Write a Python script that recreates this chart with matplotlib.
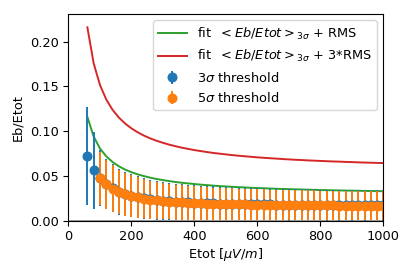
import matplotlib
matplotlib.use("Agg")
import matplotlib.pyplot as plt

# energy points [uV/m]
etot = [60, 80, 100, 120, 140, 160, 180, 200, 220, 240, 260, 280, 300, 320, 340,
        360, 380, 400, 420, 440, 460, 480, 500, 520, 540, 560, 580, 600, 620, 640,
        660, 680, 700, 720, 740, 760, 780, 800, 820, 840, 860, 880, 900, 920, 940,
        960, 980, 1000]

# fit <Eb/Etot>_3sigma + RMS
fit_rms = [0.1160, 0.0940, 0.0807, 0.0719, 0.0656, 0.0608, 0.0571, 0.0542, 0.0518,
           0.0498, 0.0481, 0.0466, 0.0454, 0.0443, 0.0433, 0.0424, 0.0417, 0.0410,
           0.0403, 0.0398, 0.0392, 0.0387, 0.0383, 0.0379, 0.0375, 0.0372, 0.0368,
           0.0365, 0.0363, 0.0360, 0.0357, 0.0355, 0.0353, 0.0351, 0.0349, 0.0347,
           0.0345, 0.0343, 0.0342, 0.0340, 0.0339, 0.0337, 0.0336, 0.0335, 0.0333,
           0.0332, 0.0331, 0.0330]

# fit <Eb/Etot>_3sigma + 3*RMS
fit_3rms = [0.2160, 0.1757, 0.1515, 0.1354, 0.1238, 0.1152, 0.1085, 0.1031, 0.0987,
            0.0950, 0.0919, 0.0893, 0.0870, 0.0850, 0.0832, 0.0816, 0.0802, 0.0789,
            0.0778, 0.0767, 0.0757, 0.0749, 0.0741, 0.0733, 0.0726, 0.0720, 0.0714,
            0.0708, 0.0703, 0.0698, 0.0694, 0.0689, 0.0685, 0.0681, 0.0678, 0.0674,
            0.0671, 0.0668, 0.0665, 0.0662, 0.0660, 0.0657, 0.0655, 0.0652, 0.0650,
            0.0648, 0.0646, 0.0644]

# 3 sigma threshold: mean and rms
mean_3s = [0.0723, 0.0566, 0.0476, 0.0412, 0.0365, 0.0324, 0.0302, 0.0280, 0.0264,
           0.0250, 0.0239, 0.0231, 0.0224, 0.0218, 0.0213, 0.0209, 0.0205, 0.0201,
           0.0199, 0.0196, 0.0194, 0.0192, 0.0191, 0.0189, 0.0188, 0.0186, 0.0185,
           0.0184, 0.0183, 0.0182, 0.0181, 0.0180, 0.0179, 0.0179, 0.0178, 0.0177,
           0.0177, 0.0176, 0.0175, 0.0175, 0.0174, 0.0174, 0.0173, 0.0173, 0.0172,
           0.0172, 0.0172, 0.0171]
rms_3s = [0.0545, 0.0430, 0.0310, 0.0280, 0.0268, 0.0258, 0.0248, 0.0243, 0.0237,
          0.0228, 0.0220, 0.0217, 0.0212, 0.0207, 0.0203, 0.0200, 0.0197, 0.0195,
          0.0193, 0.0191, 0.0189, 0.0187, 0.0186, 0.0184, 0.0183, 0.0182, 0.0181,
          0.0180, 0.0179, 0.0178, 0.0177, 0.0176, 0.0176, 0.0175, 0.0174, 0.0173,
          0.0173, 0.0172, 0.0172, 0.0171, 0.0171, 0.0170, 0.0170, 0.0169, 0.0169,
          0.0168, 0.0168, 0.0168]

# 5 sigma threshold (starts at 100)
etot_5s = etot[2:]
mean_5s = [0.0472, 0.0408, 0.0360, 0.0320, 0.0298, 0.0276, 0.0260, 0.0246, 0.0235,
           0.0228, 0.0220, 0.0214, 0.0209, 0.0205, 0.0201, 0.0197, 0.0195, 0.0192,
           0.0190, 0.0188, 0.0187, 0.0185, 0.0184, 0.0182, 0.0181, 0.0180, 0.0179,
           0.0178, 0.0177, 0.0176, 0.0176, 0.0175, 0.0174, 0.0173, 0.0173, 0.0172,
           0.0171, 0.0171, 0.0170, 0.0170, 0.0169, 0.0169, 0.0169, 0.0168, 0.0168,
           0.0168]
rms_5s = [0.0300, 0.0272, 0.0260, 0.0250, 0.0240, 0.0235, 0.0229, 0.0220, 0.0212,
          0.0209, 0.0204, 0.0199, 0.0195, 0.0192, 0.0189, 0.0187, 0.0185, 0.0183,
          0.0181, 0.0180, 0.0178, 0.0177, 0.0176, 0.0175, 0.0174, 0.0173, 0.0172,
          0.0171, 0.0170, 0.0169, 0.0168, 0.0168, 0.0167, 0.0166, 0.0166, 0.0165,
          0.0165, 0.0164, 0.0164, 0.0163, 0.0163, 0.0162, 0.0162, 0.0162, 0.0161,
          0.0161]

plt.rcParams["font.size"] = 9.3

fig = plt.figure(figsize=(4.15, 2.77), dpi=100)
ax = fig.add_subplot(111)
fig.subplots_adjust(left=0.165, right=0.924, top=0.95, bottom=0.203)

lw = 1.4
ax.axhline(0, color="gray", lw=1.8)
ax.plot(etot, fit_rms, color="tab:green", lw=lw,
        label=r"fit $\ <Eb/Etot>_{3\sigma}$ + RMS")
ax.plot(etot, fit_3rms, color="tab:red", lw=lw,
        label=r"fit $\ <Eb/Etot>_{3\sigma}$ + 3*RMS")
ax.errorbar(etot, mean_3s, yerr=rms_3s, fmt="o", color="tab:blue",
            ms=6.2, elinewidth=lw, label=r"3$\sigma$ threshold")
ax.errorbar(etot_5s, mean_5s, yerr=rms_5s, fmt="o", color="tab:orange",
            ms=6.2, elinewidth=lw, label=r"5$\sigma$ threshold")

ax.set_xlim(0, 1000)
ax.set_ylim(0, 0.231)
ax.set_xlabel(r"Etot [$\mu V/m$]", labelpad=2)
ax.set_ylabel("Eb/Etot")
ax.legend(loc="upper right", handlelength=2.2)

fig.savefig("out.png", dpi=100)
